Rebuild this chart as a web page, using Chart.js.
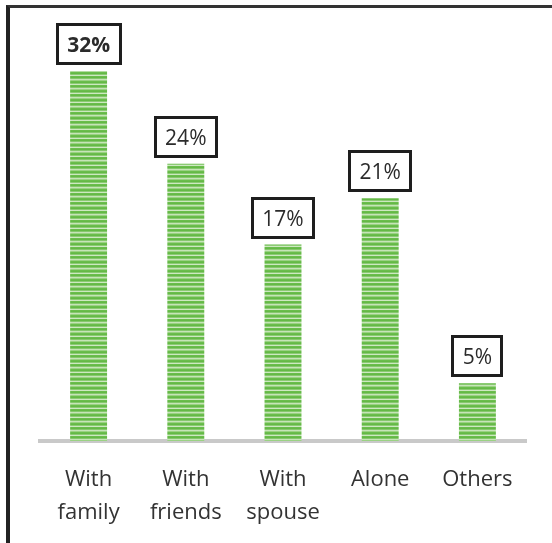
<!DOCTYPE html>
<html>
<head>
<meta charset="utf-8">
<script src="https://cdn.jsdelivr.net/npm/chart.js@4.4.1/dist/chart.umd.min.js"></script>
<style>
  html, body { margin: 0; padding: 0; background: #fff; }
  #wrap { position: relative; width: 552px; height: 543px; }
  #frame {
    position: absolute; left: 6px; top: 5px; right: 0; bottom: 0;
    border-left: 4px solid #222; border-top: 3px solid #333;
    pointer-events: none;
  }
  canvas { position: absolute; left: 0; top: 0; }
</style>
</head>
<body>
<div id="wrap">
  <canvas id="chart" width="552" height="543"></canvas>
  <div id="frame"></div>
</div>
<script>
// Data
const categories = [['With', 'family'], ['With', 'friends'], ['With', 'spouse'], 'Alone', 'Others'];
const shares = [32, 24, 17, 21, 5];
const shareLabels = ['32%', '24%', '17%', '21%', '5%'];
const yTicks = [0, 36];

// Striped green fill like the original bars
function makeStripes() {
    const c = document.createElement('canvas');
    c.width = 4;
    c.height = 9;
    const g = c.getContext('2d');
    const rows = ['#6abd4c', '#64b946', '#8ccb74', '#cde8c1', '#6abd4c', '#64b946', '#86c86d', '#c6e4b8', '#9ad283'];
    rows.forEach((col, i) => {
        g.fillStyle = col;
        g.fillRect(0, i, 4, 1);
    });
    return g.createPattern(c, 'repeat');
}

// Boxed value labels above bars
const valueBoxes = {
    id: 'valueBoxes',
    afterDatasetsDraw(chart) {
        const ctx = chart.ctx;
        const meta = chart.getDatasetMeta(0);
        meta.data.forEach((bar, i) => {
            ctx.save();
            ctx.font = (i === 0 ? 'bold ' : '') + '21px "Open Sans"';
            const tw = ctx.measureText(shareLabels[i]).width;
            const w = Math.round(tw + 23);
            const h = 42;
            const x = Math.round(bar.x - w / 2);
            const y = Math.round(bar.y - 6 - h);
            ctx.fillStyle = '#fff';
            ctx.fillRect(x, y, w, h);
            ctx.lineWidth = 3;
            ctx.strokeStyle = '#1e1e1e';
            ctx.strokeRect(x + 1.5, y + 1.5, w - 3, h - 3);
            ctx.fillStyle = '#2b2b2b';
            ctx.textAlign = 'center';
            ctx.textBaseline = 'alphabetic';
            ctx.fillText(shareLabels[i], bar.x, y + h / 2 + 7.5);
            ctx.restore();
        });
    }
};

document.addEventListener('DOMContentLoaded', function() {
    const ctx = document.getElementById('chart');
    new Chart(ctx, {
        type: 'bar',
        data: {
            labels: categories,
            datasets: [{
                data: shares,
                backgroundColor: makeStripes(),
                borderWidth: 0,
                barPercentage: 0.76,
                categoryPercentage: 0.5
            }]
        },
        options: {
            responsive: false,
            animation: false,
            layout: { padding: { left: 40, right: 26, top: 25, bottom: 0 } },
            plugins: {
                legend: { display: false },
                tooltip: { enabled: false }
            },
            scales: {
                x: {
                    grid: { display: false },
                    border: { display: true, color: '#c9c9c9', width: 4 },
                    ticks: {
                        color: '#333',
                        font: { family: '"Open Sans"', size: 22, lineHeight: 1.5 },
                        padding: 14,
                        maxRotation: 0
                    }
                },
                y: {
                    display: false,
                    min: yTicks[0],
                    max: yTicks[1]
                }
            }
        },
        plugins: [valueBoxes]
    });
});
</script>
</body>
</html>
